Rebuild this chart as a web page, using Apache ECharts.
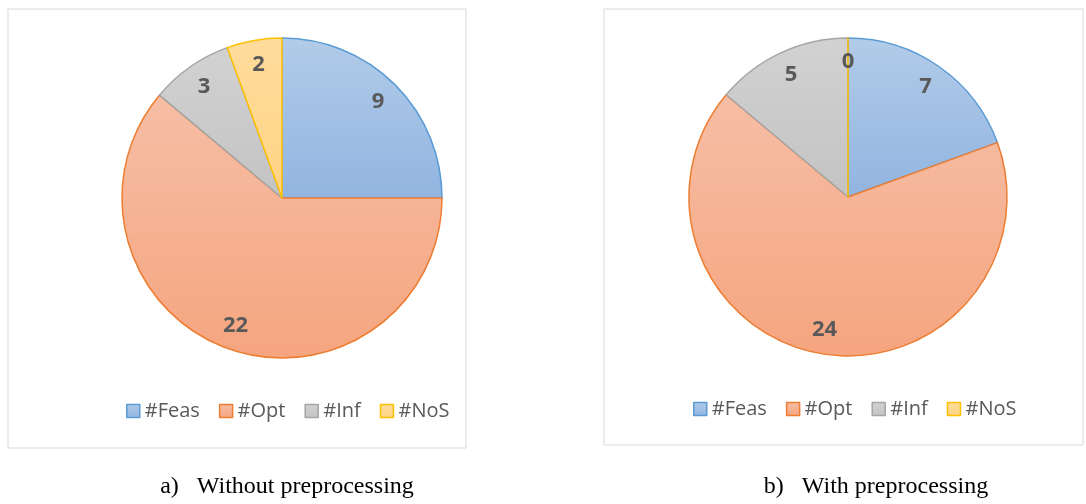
<!DOCTYPE html>
<html>
<head>
<meta charset="utf-8">
<script src="https://cdn.jsdelivr.net/npm/echarts@6/dist/echarts.min.js"></script>
<style>
  html, body { margin: 0; padding: 0; background: #ffffff; }
  #chart { width: 1086px; height: 504px; }
</style>
</head>
<body>
<div id="chart"></div>
<script>
// Instance counts per status, before and after preprocessing
const categories = ['#Feas', '#Opt', '#Inf', '#NoS'];
const withoutPre = [9, 22, 3, 2];
const withPre = [7, 24, 5, 0];
const captions = ['a)\u2002 Without preprocessing', 'b)\u2002 With preprocessing'];

// Fill gradients (top, bottom) and outline colours per category
const fillTop = ['#b2cce9', '#f6bea6', '#d2d2d2', '#ffdc9c'];
const fillBottom = ['#91b4e0', '#f5a57f', '#c3c3c3', '#ffd384'];
const outline = ['#5b9bd5', '#ed7d31', '#a5a5a5', '#ffc000'];

const FONT = '"Open Sans", "Noto Sans", sans-serif';

function gradient(i) {
  return new echarts.graphic.LinearGradient(0, 0, 0, 1, [
    { offset: 0, color: fillTop[i] },
    { offset: 1, color: fillBottom[i] }
  ]);
}

function sliceData(values) {
  return categories.map((name, i) => ({
    name: name,
    value: values[i],
    itemStyle: { color: gradient(i), borderColor: outline[i], borderWidth: 1.5 }
  }));
}

function labelData(values) {
  return categories.map((name, i) => ({ name: name, value: values[i] }));
}

function pieSeries(values, center, r) {
  return [
    {
      type: 'pie',
      center: center,
      radius: [0, r],
      startAngle: 90,
      clockwise: true,
      avoidLabelOverlap: false,
      label: { show: false },
      labelLine: { show: false },
      emphasis: { scale: false },
      data: sliceData(values)
    },
    {
      // transparent ring that carries the value labels near the rim
      type: 'pie',
      center: center,
      radius: [r * 0.66, r],
      startAngle: 90,
      clockwise: true,
      silent: true,
      avoidLabelOverlap: false,
      itemStyle: { color: 'rgba(0,0,0,0)', borderWidth: 0 },
      label: {
        show: true,
        position: 'inside',
        formatter: '{c}',
        color: '#595959',
        fontFamily: FONT,
        fontWeight: 'bold',
        fontSize: 22
      },
      labelLine: { show: false },
      emphasis: { disabled: true },
      data: labelData(values)
    }
  ];
}

function legendFor(left, top) {
  return {
    top: top,
    left: left,
    itemWidth: 13,
    itemHeight: 13,
    itemGap: 19,
    icon: 'rect',
    textStyle: { color: '#595959', fontFamily: FONT, fontSize: 20 },
    selectedMode: false,
    data: categories.map((name, i) => ({
      name: name,
      itemStyle: { color: gradient(i), borderColor: outline[i], borderWidth: 1.5 }
    }))
  };
}

const chart = echarts.init(document.getElementById('chart'), null, { renderer: 'canvas' });

const option = {
  backgroundColor: '#ffffff',
  animation: false,
  legend: [
    legendFor(121, 396),
    legendFor(688, 394)
  ],
  graphic: [
    { type: 'rect', shape: { x: 8, y: 9, width: 458, height: 439 },
      style: { fill: 'none', stroke: '#d9d9d9', lineWidth: 1 }, silent: true },
    { type: 'rect', shape: { x: 604, y: 9, width: 479, height: 436 },
      style: { fill: 'none', stroke: '#d9d9d9', lineWidth: 1 }, silent: true },
    { type: 'text', x: 287, y: 487,
      style: { text: captions[0], fill: '#000000', font: '24px "Liberation Serif", "Times New Roman", serif',
               textAlign: 'center', textVerticalAlign: 'middle' } },
    { type: 'text', x: 876, y: 487,
      style: { text: captions[1], fill: '#000000', font: '24px "Liberation Serif", "Times New Roman", serif',
               textAlign: 'center', textVerticalAlign: 'middle' } }
  ],
  series: [].concat(
    pieSeries(withoutPre, [282, 198], 160),
    pieSeries(withPre, [848, 197], 159)
  )
};

chart.setOption(option);
</script>
</body>
</html>
